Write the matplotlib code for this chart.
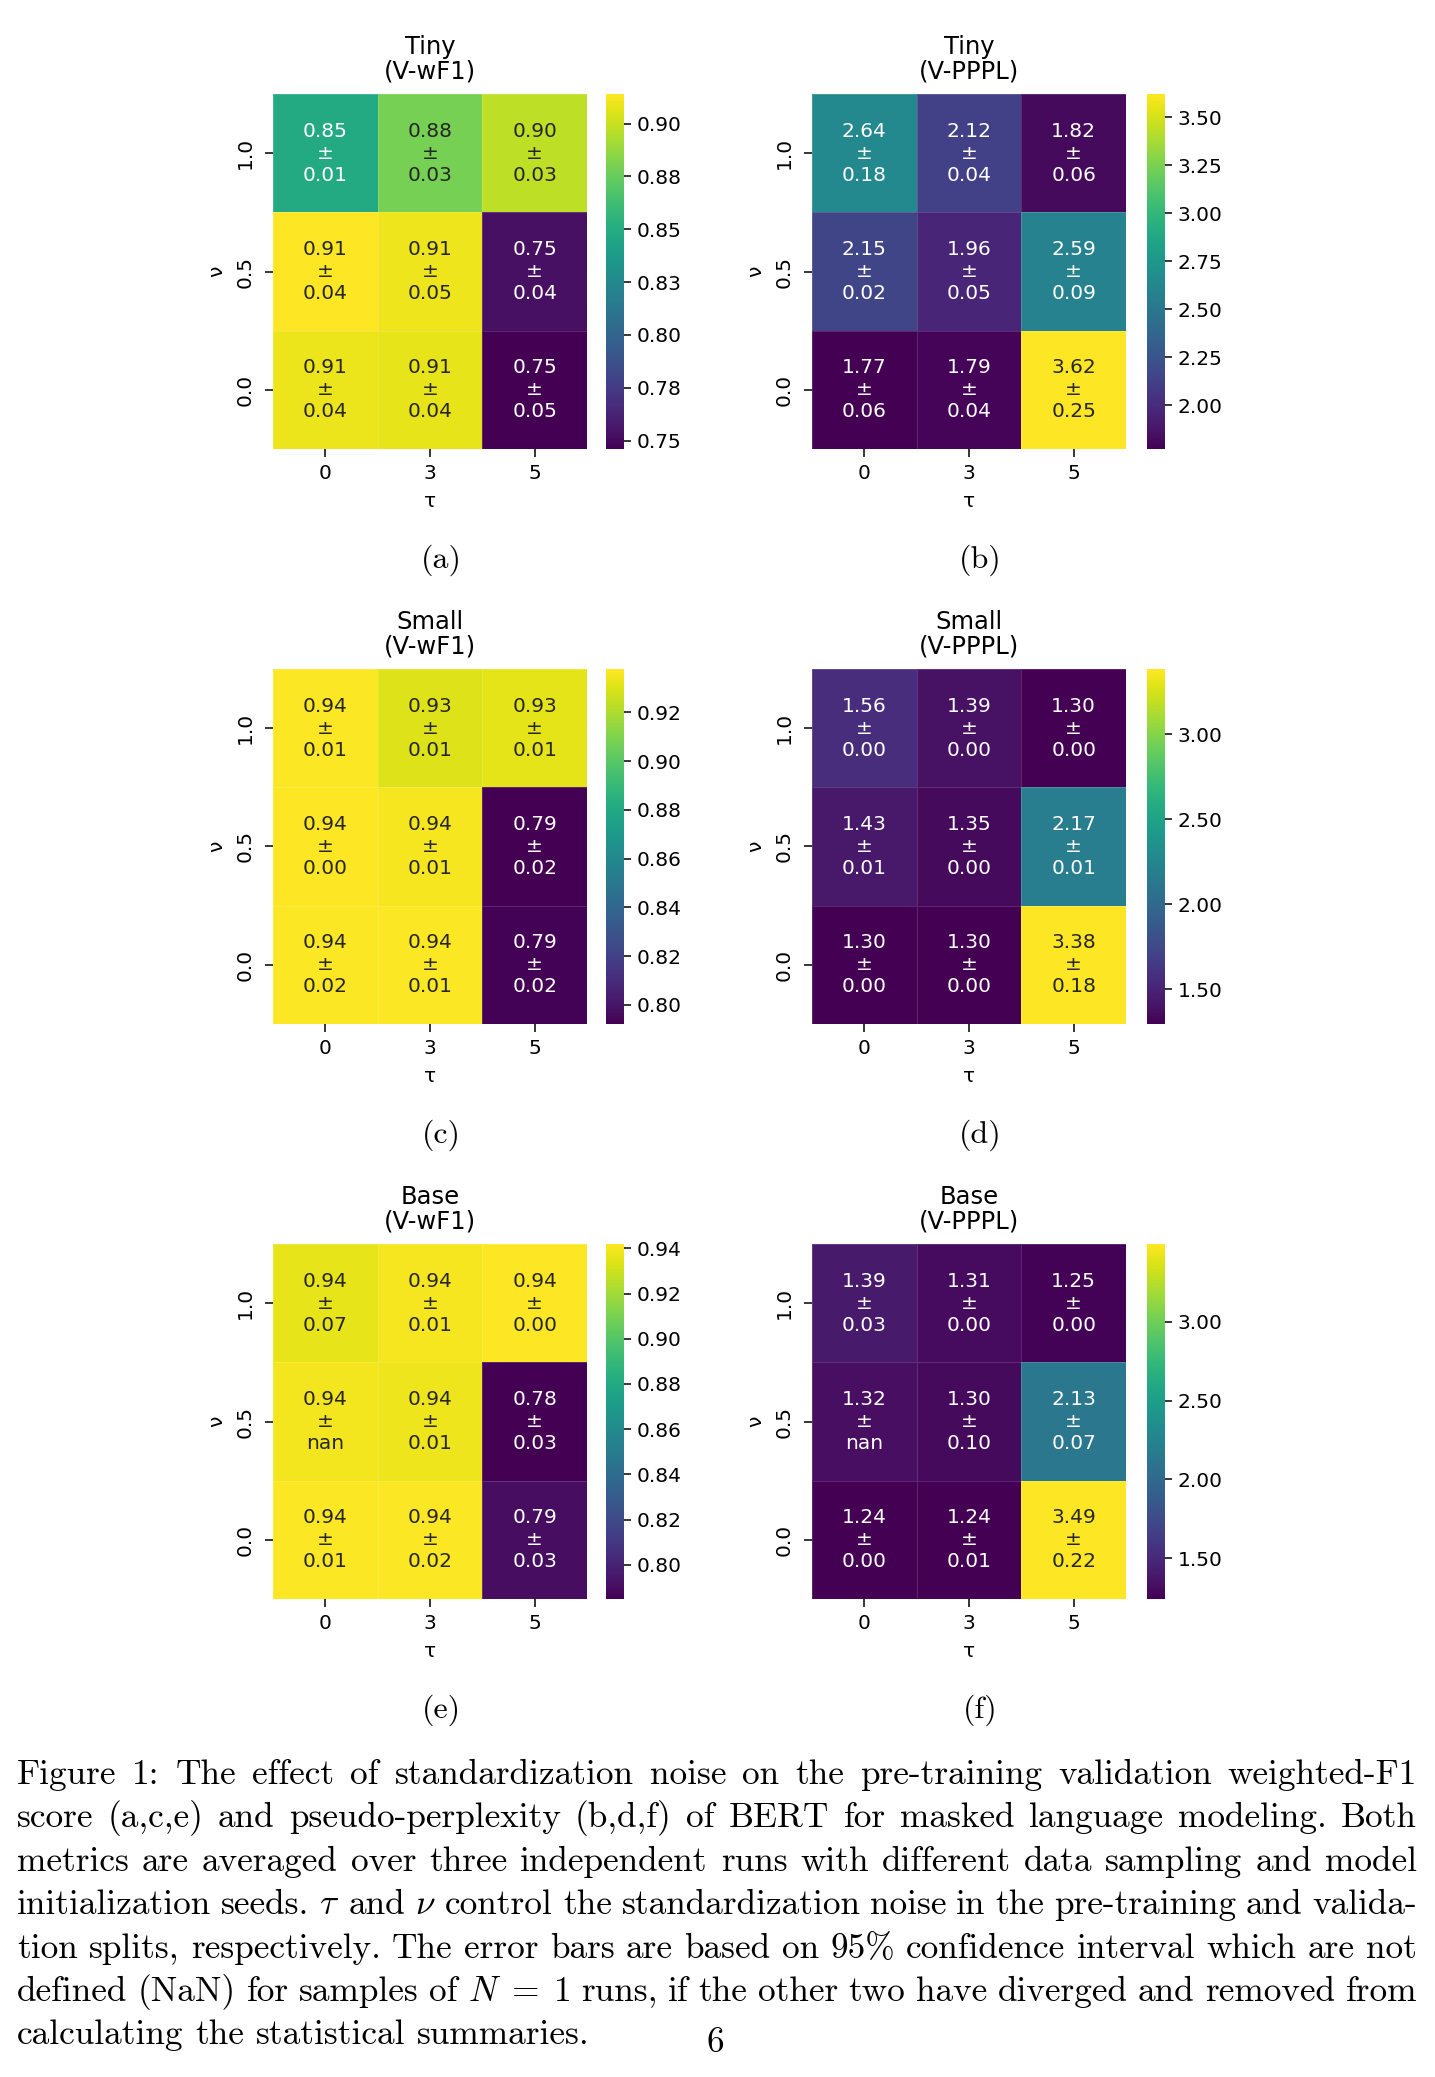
import numpy as np
import matplotlib
matplotlib.use('Agg')
import matplotlib.pyplot as plt
import seaborn as sns

plt.rcParams['mathtext.fontset'] = 'cm'

FIG_W, FIG_H = 1435, 2077

tau = [0, 3, 5]
nu = ['1.0', '0.5', '0.0']

# rows: nu = 1.0, 0.5, 0.0 ; cols: tau = 0, 3, 5
tiny_wf1 = [[0.848, 0.879, 0.897], [0.914, 0.910, 0.753], [0.909, 0.908, 0.746]]
tiny_wf1_ci = [[0.01, 0.03, 0.03], [0.04, 0.05, 0.04], [0.04, 0.04, 0.05]]
tiny_pppl = [[2.64, 2.12, 1.82], [2.15, 1.96, 2.59], [1.772, 1.79, 3.622]]
tiny_pppl_ci = [[0.18, 0.04, 0.06], [0.02, 0.05, 0.09], [0.06, 0.04, 0.25]]
small_wf1 = [[0.937, 0.930, 0.932], [0.9378, 0.936, 0.7921], [0.937, 0.937, 0.793]]
small_wf1_ci = [[0.01, 0.01, 0.01], [0.00, 0.01, 0.02], [0.02, 0.01, 0.02]]
small_pppl = [[1.56, 1.39, 1.30], [1.43, 1.35, 2.17], [1.296, 1.30, 3.384]]
small_pppl_ci = [[0.00, 0.00, 0.00], [0.01, 0.00, 0.01], [0.00, 0.00, 0.18]]
base_wf1 = [[0.936, 0.940, 0.9419], [0.939, 0.938, 0.7849], [0.941, 0.941, 0.790]]
base_wf1_ci = [[0.07, 0.01, 0.00], [np.nan, 0.01, 0.03], [0.01, 0.02, 0.03]]
base_pppl = [[1.39, 1.31, 1.25], [1.32, 1.30, 2.13], [1.240, 1.243, 3.494]]
base_pppl_ci = [[0.03, 0.00, 0.00], [np.nan, 0.10, 0.07], [0.00, 0.01, 0.22]]

# colorbar ticks as printed
tiny_wf1_cticks = [0.75, 0.775, 0.80, 0.825, 0.85, 0.875, 0.90]
tiny_wf1_clabels = ['0.75', '0.78', '0.80', '0.83', '0.85', '0.88', '0.90']
tiny_pppl_cticks = [2.00, 2.25, 2.50, 2.75, 3.00, 3.25, 3.50]
small_wf1_cticks = [0.80, 0.82, 0.84, 0.86, 0.88, 0.90, 0.92]
small_pppl_cticks = [1.5, 2.0, 2.5, 3.0]
base_wf1_cticks = [0.80, 0.82, 0.84, 0.86, 0.88, 0.90, 0.92, 0.94]
base_pppl_cticks = [1.5, 2.0, 2.5, 3.0]

panels = [
    ('Tiny\n(V-wF1)', tiny_wf1, tiny_wf1_ci, tiny_wf1_cticks, tiny_wf1_clabels, '(a)'),
    ('Tiny\n(V-PPPL)', tiny_pppl, tiny_pppl_ci, tiny_pppl_cticks, None, '(b)'),
    ('Small\n(V-wF1)', small_wf1, small_wf1_ci, small_wf1_cticks, None, '(c)'),
    ('Small\n(V-PPPL)', small_pppl, small_pppl_ci, small_pppl_cticks, None, '(d)'),
    ('Base\n(V-wF1)', base_wf1, base_wf1_ci, base_wf1_cticks, None, '(e)'),
    ('Base\n(V-PPPL)', base_pppl, base_pppl_ci, base_pppl_cticks, None, '(f)'),
]

caption_lines = [
    "Figure 1: The effect of standardization noise on the pre-training validation weighted-F1",
    "score (a,c,e) and pseudo-perplexity (b,d,f) of BERT for masked language modeling. Both",
    "metrics are averaged over three independent runs with different data sampling and model",
    r"initialization seeds. $\tau$ and $\nu$ control the standardization noise in the pre-training and valida-",
    "tion splits, respectively. The error bars are based on 95% confidence interval which are not",
    r"defined (NaN) for samples of $N\;=\;1$ runs, if the other two have diverged and removed from",
    "calculating the statistical summaries.",
]

SERIF = 'cmr10'


def px_axes(fig, x, y, w, h):
    return fig.add_axes([x / FIG_W, 1 - (y + h) / FIG_H, w / FIG_W, h / FIG_H])


fig = plt.figure(figsize=(FIG_W / 100, FIG_H / 100), dpi=100)

for i, (title, mean, ci, cticks, clabels, tag) in enumerate(panels):
    col, row = i % 2, i // 2
    hx = [273, 812][col]
    cx = [606, 1147][col]
    top = 94 + row * 575
    ax = px_axes(fig, hx, top, 314, 355)
    cax = px_axes(fig, cx, top, 18, 355)

    mean = np.array(mean, dtype=float)
    ci = np.array(ci, dtype=float)
    annot = np.array([[f"{m:.2f}\n±\n{c:.2f}" for m, c in zip(mr, cr)]
                      for mr, cr in zip(mean, ci)])

    sns.heatmap(mean, annot=annot, fmt='', cmap='viridis', ax=ax, cbar_ax=cax,
                xticklabels=tau, yticklabels=nu,
                annot_kws={'fontsize': 14.5},
                linewidths=0.5, linecolor=(1, 1, 1, 0.15))
    ax.set_title(title, fontsize=17.5, pad=11, linespacing=1.05)
    ax.set_xlabel('τ', fontsize=14.5, labelpad=6)
    ax.set_ylabel('ν', fontsize=14.5, labelpad=7)
    ax.tick_params(labelsize=14.5, length=6, width=1.1, pad=5)
    ax.tick_params(axis='y', pad=7)
    plt.setp(ax.get_yticklabels(), rotation=90, va='center')
    plt.setp(ax.get_xticklabels(), rotation=0)

    cax.set_yticks(cticks)
    if clabels is None:
        clabels = [f"{t:.2f}" for t in cticks]
    cax.set_yticklabels(clabels)
    cax.tick_params(labelsize=14.5, length=5, width=1.1, pad=4)

    tag_x = [441, 980][col]
    fig.text(tag_x / FIG_W, 1 - (560 + row * 575) / FIG_H, tag,
             family=SERIF, fontsize=23, ha='center', va='center')

# justified caption
renderer = fig.canvas.get_renderer()


def measure(words, fs):
    ws = []
    for w in words:
        t = fig.text(0, 0, w, family=SERIF, fontsize=fs)
        ws.append(t.get_window_extent(renderer).width)
        t.remove()
    return ws


left, right = 17, 1417
target = right - left
words_per_line = [ln.split(' ') for ln in caption_lines]
fs0 = 10
naturals = []
for words in words_per_line[:-1]:
    ws = measure(words, fs0)
    naturals.append(sum(ws) + (len(words) - 1) * 0.333 * fs0 * 100 / 72)
fs = fs0 * target / np.median(naturals)
space_nat = 0.333 * fs * 100 / 72

for li, words in enumerate(words_per_line):
    ws = measure(words, fs)
    if li < len(words_per_line) - 1:
        gap = (target - sum(ws)) / (len(words) - 1)
    else:
        gap = space_nat
    y = 1 - (1784 + li * 43.4) / FIG_H
    x = left
    for w, wd in zip(words, ws):
        fig.text(x / FIG_W, y, w, family=SERIF, fontsize=fs, va='baseline', ha='left')
        x += wd + gap

fig.text(715 / FIG_W, 1 - 2052 / FIG_H, '6', family=SERIF, fontsize=fs,
         ha='center', va='baseline')

fig.savefig('out.png', dpi=100)
